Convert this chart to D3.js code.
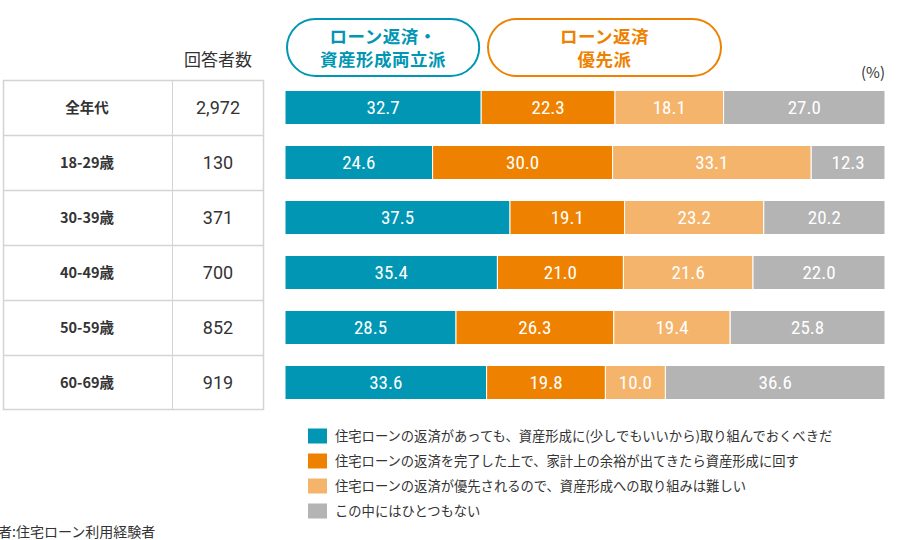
<!DOCTYPE html>
<html>
<head>
<meta charset="utf-8">
<script src="https://cdn.jsdelivr.net/npm/d3@7"></script>
<style>
  body { margin: 0; background: #fff; }
  svg { display: block; font-family: "Noto Sans CJK JP", "Noto Sans", sans-serif; }
</style>
</head>
<body>
<script>
var width = 900;
var height = 540;

// data
var ages = ["全年代", "18-29歳", "30-39歳", "40-49歳", "50-59歳", "60-69歳"];
var counts = ["2,972", "130", "371", "700", "852", "919"];
var both = [32.7, 24.6, 37.5, 35.4, 28.5, 33.6];
var loanFirst = [22.3, 30.0, 19.1, 21.0, 26.3, 19.8];
var hard = [18.1, 33.1, 23.2, 21.6, 19.4, 10.0];
var none = [27.0, 12.3, 20.2, 22.0, 25.8, 36.6];
var legendLabels = [
  "住宅ローンの返済があっても、資産形成に(少しでもいいから)取り組んでおくべきだ",
  "住宅ローンの返済を完了した上で、家計上の余裕が出てきたら資産形成に回す",
  "住宅ローンの返済が優先されるので、資産形成への取り組みは難しい",
  "この中にはひとつもない"
];
var colors = ["#0096b4", "#ee8200", "#f5b46b", "#b4b4b4"];

var keys = ["both", "loanFirst", "hard", "none"];
var rows = ages.map(function(a, i) {
  return { age: a, count: counts[i], both: both[i], loanFirst: loanFirst[i], hard: hard[i], none: none[i] };
});

var svg = d3.select("body")
    .append("svg")
    .attr("width", width)
    .attr("height", height);

// scales
var y = d3.scaleBand()
    .domain(ages)
    .range([80, 410])
    .paddingInner(0);

var x = d3.scaleLinear()
    .domain([0, 100])
    .range([285, 885]);

// table
var table = svg.append("g");
table.append("rect")
    .attr("x", 3.5)
    .attr("y", 80.5)
    .attr("width", 260)
    .attr("height", 329)
    .attr("fill", "none")
    .attr("stroke", "#d4d4d4")
    .attr("stroke-width", 1.5);

table.append("line")
    .attr("x1", 172.5).attr("x2", 172.5)
    .attr("y1", 80).attr("y2", 410)
    .attr("stroke", "#d4d4d4");

table.selectAll(".hline")
    .data(ages.slice(1))
    .enter().append("line")
    .attr("x1", 3).attr("x2", 264)
    .attr("y1", function(d) { return Math.round(y(d)) + 0.5; })
    .attr("y2", function(d) { return Math.round(y(d)) + 0.5; })
    .attr("stroke", "#d4d4d4")
    .attr("stroke-width", 1.5);

table.selectAll(".age")
    .data(rows)
    .enter().append("text")
    .attr("x", 87)
    .attr("y", function(d) { return y(d.age) + y.bandwidth() / 2; })
    .attr("dy", "0.36em")
    .attr("text-anchor", "middle")
    .attr("font-size", 14.5)
    .attr("font-weight", "bold")
    .attr("fill", "#333")
    .text(function(d) { return d.age; });

table.selectAll(".count")
    .data(rows)
    .enter().append("text")
    .attr("x", 218)
    .attr("y", function(d) { return y(d.age) + y.bandwidth() / 2; })
    .attr("dy", "0.36em")
    .attr("text-anchor", "middle")
    .attr("font-size", 18)
    .attr("font-family", "Roboto, 'Noto Sans', sans-serif")
    .attr("fill", "#333")
    .text(function(d) { return d.count; });

svg.append("text")
    .attr("x", 218)
    .attr("y", 60)
    .attr("dy", "0.36em")
    .attr("text-anchor", "middle")
    .attr("font-size", 17)
    .attr("fill", "#333")
    .text("回答者数");

svg.append("text")
    .attr("x", 885)
    .attr("y", 78)
    .attr("text-anchor", "end")
    .attr("font-size", 15)
    .attr("fill", "#333")
    .text("(%)");

// header pills
var pills = [
  { x0: 0, x1: 32.7, lines: ["ローン返済・", "資産形成両立派"], color: colors[0] },
  { x0: 33.5, x1: 73, lines: ["ローン返済", "優先派"], color: colors[1] }
];
var pill = svg.selectAll(".pill")
    .data(pills)
    .enter().append("g");
pill.append("rect")
    .attr("x", function(d) { return x(d.x0) + 2; })
    .attr("y", 19)
    .attr("width", function(d) { return x(d.x1) - x(d.x0) - 4; })
    .attr("height", 57)
    .attr("rx", 28.5)
    .attr("fill", "#fff")
    .attr("stroke", function(d) { return d.color; })
    .attr("stroke-width", 2);
pill.each(function(d) {
  var g = d3.select(this);
  d.lines.forEach(function(line, i) {
    g.append("text")
      .attr("x", (x(d.x0) + x(d.x1)) / 2)
      .attr("y", 37 + i * 23)
      .attr("dy", "0.36em")
      .attr("text-anchor", "middle")
      .attr("font-size", 17.5)
      .attr("font-weight", "bold")
      .attr("letter-spacing", 0.5)
      .attr("fill", d.color)
      .text(line);
  });
});

// bars
var stack = d3.stack().keys(keys)(rows);
var barH = 34;

var layer = svg.selectAll(".layer")
    .data(stack)
    .enter().append("g")
    .attr("fill", function(d, i) { return colors[i]; });

layer.selectAll("rect")
    .data(function(d) { return d; })
    .enter().append("rect")
    .attr("x", function(d) { return x(d[0]); })
    .attr("y", function(d) { return y(d.data.age) + (y.bandwidth() - barH) / 2; })
    .attr("width", function(d) { return Math.min(x(d[1]), x(100)) - x(d[0]); })
    .attr("height", barH)
    .attr("stroke", "#fff")
    .attr("stroke-width", 1);

layer.selectAll("text")
    .data(function(d) { return d; })
    .enter().append("text")
    .attr("x", function(d) { return (x(d[0]) + Math.min(x(d[1]), x(100))) / 2; })
    .attr("y", function(d) { return y(d.data.age) + y.bandwidth() / 2; })
    .attr("dy", "0.36em")
    .attr("text-anchor", "middle")
    .attr("font-size", 19)
    .attr("font-family", "'Liberation Sans Narrow', 'Roboto Condensed', Roboto, sans-serif")
    .attr("fill", "#fff")
    .text(function(d) { return (d[1] - d[0]).toFixed(1); });

// legend
var legend = svg.selectAll(".legend")
    .data(legendLabels)
    .enter().append("g")
    .attr("transform", function(d, i) { return "translate(308," + (436 + i * 25) + ")"; });
legend.append("rect")
    .attr("x", 0)
    .attr("y", -7.5)
    .attr("width", 19)
    .attr("height", 15)
    .attr("fill", function(d, i) { return colors[i]; });
legend.append("text")
    .attr("x", 27)
    .attr("dy", "0.36em")
    .attr("font-size", 13.3)
    .attr("fill", "#333")
    .text(function(d) { return d; });

// footnote (cut off at left edge as in the source)
svg.append("text")
    .attr("x", -30)
    .attr("y", 532)
    .attr("dy", "0.36em")
    .attr("font-size", 14)
    .attr("fill", "#333")
    .text("対象者:住宅ローン利用経験者");
</script>
</body>
</html>
